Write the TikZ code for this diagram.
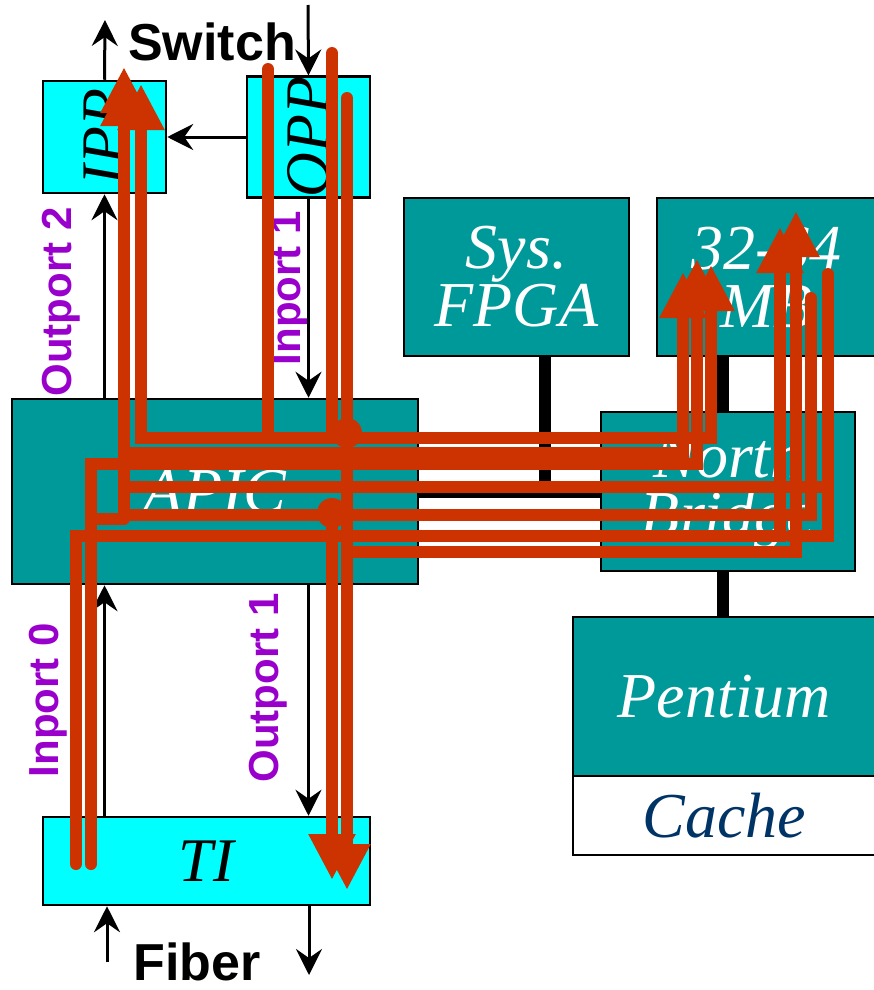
\documentclass[tikz,border=0pt]{standalone}
\usepackage{fontspec}
\setmainfont{Liberation Serif}
\setsansfont{Liberation Sans}
\usetikzlibrary{arrows.meta,positioning,calc}
\definecolor{boardteal}{HTML}{009999}
\definecolor{ifcyan}{HTML}{00FFFF}
\definecolor{flowred}{HTML}{CC3300}
\definecolor{portpurple}{HTML}{9900CC}
\definecolor{cachenavy}{HTML}{003366}

\begin{document}
\begin{tikzpicture}[x=1pt,y=-1pt,
board/.style={draw=black,line width=2.5pt,fill=boardteal,text=white,align=center,inner sep=0pt,font=\fontsize{64}{58}\selectfont\itshape},
iface/.style={draw=black,line width=2.5pt,fill=ifcyan,align=center,inner sep=0pt,font=\fontsize{62}{58}\selectfont\itshape},
conn/.style={-{Stealth[length=26pt,width=26pt,inset=9pt]},line width=3pt},
bus/.style={line width=12pt},
thinbus/.style={line width=5pt},
plabel/.style={rotate=90,text=portpurple,font=\fontsize{42}{42}\selectfont\sffamily\bfseries},
outside/.style={font=\fontsize{52}{52}\selectfont\sffamily\bfseries,inner sep=1pt},
redflow/.style={draw=flowred,line width=12pt,line cap=round},
redin/.style={redflow,-{Triangle[length=46pt,width=44pt]}}
]
\useasboundingbox (0,0) rectangle (873,990);

% boxes
\node[iface,minimum width=123pt,minimum height=112pt] (ipp) at (104.5,137) {\rotatebox{90}{IPP}};
\node[iface,minimum width=123pt,minimum height=112pt] (opp) at (308.5,137) {\rotatebox{90}{OPP}};
\node[board,minimum width=225pt,minimum height=158pt] (fpga) at (516.5,277) {Sys.\\FPGA};
\node[board,minimum width=219pt,minimum height=158pt] (mb) at (766.5,277) {32-64\\MB};
\node[board,minimum width=406pt,minimum height=185pt] (apic) at (215,491.5) {APIC};
\node[board,minimum width=254pt,minimum height=159pt] (nbridge) at (728,491.5) {North\\Bridge};
\node[board,minimum width=303pt,minimum height=159pt] (pentium) at (724.5,696.5) {Pentium};
\node[board,fill=white,text=cachenavy,minimum width=303pt,minimum height=79pt,below=-2.5pt of pentium] (cache) {Cache};
\node[iface,minimum width=327pt,minimum height=88pt] (ti) at (206.5,861) {TI};

% buses
\coordinate (pcibus) at (545,495);
\draw[thinbus] (pcibus -| apic.east) -- (pcibus -| nbridge.west);
\draw[bus] (pcibus |- fpga.south) -- (pcibus);
\draw[bus] ([xshift=-5pt]nbridge.north) -- ([xshift=-5pt]nbridge.north |- mb.south);
\draw[bus] ([xshift=-5pt]nbridge.south) -- ([xshift=-5pt]nbridge.south |- pentium.north);

% labels
\node[outside] (switch) at (212,42) {Switch};
\node[outside] (fiber) at (197,962) {Fiber};
\node[plabel] (out2) at (61,302) {Outport 2};
\node[plabel] (in1) at (290,288) {Inport 1};
\node[plabel] (in0) at (48,700) {Inport 0};
\node[plabel] (out1) at (268,688) {Outport 1};

% ports
\coordinate (sw-out) at (105,20);
\coordinate (sw-in) at (308,5);
\coordinate (fib-in) at (107,962);
\coordinate (fib-out) at (309,975);
\draw[conn] (ipp.north) -- (sw-out);
\draw[conn] (sw-in) -- (opp.north);
\draw[conn] (opp.west) -- (ipp.east);
\draw[conn] (ipp.south |- apic.north) -- (ipp.south);
\draw[conn] (opp.south) -- (opp.south |- apic.north);
\draw[conn] (ipp.south |- ti.north) -- (ipp.south |- apic.south);
\draw[conn] (opp.south |- apic.south) -- (opp.south |- ti.north);
\draw[conn] (fib-in) -- (fib-in |- ti.south);
\draw[conn] (fib-out |- ti.south) -- (fib-out);

% data flows
\draw[redin] (268,69) -- (268,438) -- (711,438) -- (711,265);
\draw[redflow] (332,53) -- (332,433);
\draw[redin] (347,98) -- (347,890);
\draw[redin] (347,438) -- (141,438) -- (141,84);
\draw[redin] (91,864) -- (91,464) -- (697,464) -- (697,259);
\draw[redin] (76,864) -- (76,536) -- (780,536) -- (780,227);
\draw[redflow] (91,519) -- (124,519);
\draw[redflow] (828,274) -- (828,536) -- (790,536);
\draw[redin] (828,487) -- (124,487) -- (124,80);
\draw[redin] (811,298) -- (811,515) -- (124,515) -- (124,67);
\draw[redin] (124,453) -- (683,453) -- (683,272);
\draw[redin] (332,513) -- (332,880);
\draw[redin] (347,552) -- (796,552) -- (796,211);
\fill[flowred] (347,433) circle[radius=15pt];
\fill[flowred] (332,513) circle[radius=15pt];
\end{tikzpicture}
\end{document}
